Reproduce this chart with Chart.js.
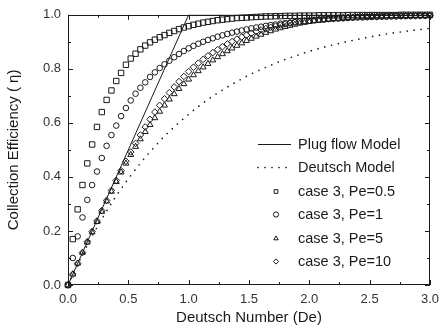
<!DOCTYPE html>
<html><head><meta charset="utf-8">
<script src="https://cdn.jsdelivr.net/npm/chart.js@4/dist/chart.umd.min.js"></script>
<style>html,body{margin:0;padding:0;background:#fff}</style>
</head><body>
<canvas id="c" width="446" height="330"></canvas>
<script>
// ---- data ----
const DE = [0,0.04,0.08,0.12,0.16,0.2,0.24,0.28,0.32,0.36,0.4,0.44,0.48,0.52,0.56,0.6,0.64,0.68,0.72,0.76,0.8,0.84,0.88,0.92,0.96,1,1.04,1.08,1.12,1.16,1.2,1.24,1.28,1.32,1.36,1.4,1.44,1.48,1.52,1.56,1.6,1.64,1.68,1.72,1.76,1.8,1.84,1.88,1.92,1.96,2,2.04,2.08,2.12,2.16,2.2,2.24,2.28,2.32,2.36,2.4,2.44,2.48,2.52,2.56,2.6,2.64,2.68,2.72,2.76,2.8,2.84,2.88,2.92,2.96,3];
const PE05 = [0,0.17,0.28,0.37,0.45,0.52,0.585,0.64,0.685,0.72,
  0.755,0.785,0.815,0.838,0.856,0.872,0.886,0.898,0.908,0.917,
  0.925,0.933,0.94,0.947,0.953,0.958,0.963,0.967,0.971,0.974,
  0.977,0.98,0.982,0.984,0.986,0.988,0.989,0.99,0.991,0.992,
  0.993,0.994,0.994,0.995,0.995,0.996,0.996,0.996,0.997,0.997,
  0.997,0.997,0.998,0.998,0.998,0.998,0.998,0.998,0.999,0.999,
  0.999,0.999,0.999,0.999,0.999,0.999,0.999,0.999,0.999,1,
  1,1,1,1,1,1];
const PE1 = [0,0.10,0.18,0.25,0.315,0.37,0.42,0.47,0.515,0.555,
  0.59,0.625,0.655,0.683,0.708,0.73,0.75,0.77,0.787,0.803,
  0.817,0.83,0.843,0.855,0.866,0.876,0.885,0.893,0.9,0.907,
  0.913,0.919,0.924,0.929,0.934,0.938,0.942,0.946,0.95,0.953,
  0.956,0.959,0.962,0.964,0.967,0.969,0.971,0.973,0.975,0.977,
  0.978,0.98,0.981,0.982,0.984,0.985,0.986,0.987,0.988,0.989,
  0.99,0.99,0.991,0.992,0.992,0.993,0.993,0.994,0.994,0.995,
  0.995,0.995,0.996,0.996,0.996,0.997];
const PE5 = [0,0.04,0.08,0.12,0.158,0.196,0.234,0.272,0.31,0.346,
  0.382,0.417,0.45,0.482,0.512,0.54,0.567,0.593,0.618,0.642,
  0.665,0.687,0.707,0.726,0.744,0.761,0.777,0.792,0.806,0.819,
  0.832,0.844,0.855,0.866,0.876,0.886,0.895,0.904,0.912,0.92,
  0.927,0.934,0.94,0.946,0.951,0.956,0.96,0.964,0.968,0.971,
  0.974,0.977,0.979,0.981,0.983,0.985,0.986,0.988,0.989,0.99,
  0.991,0.992,0.993,0.993,0.994,0.994,0.995,0.995,0.996,0.996,
  0.996,0.997,0.997,0.997,0.997,0.998];
const PE10 = [0,0.04,0.08,0.12,0.16,0.198,0.237,0.275,0.313,0.35,
  0.387,0.423,0.458,0.492,0.524,0.555,0.585,0.613,0.64,0.665,
  0.689,0.712,0.733,0.753,0.772,0.79,0.806,0.821,0.835,0.848,
  0.86,0.871,0.882,0.892,0.901,0.91,0.918,0.925,0.932,0.938,
  0.944,0.949,0.954,0.958,0.962,0.966,0.969,0.972,0.975,0.977,
  0.979,0.981,0.983,0.985,0.986,0.987,0.988,0.989,0.99,0.991,
  0.992,0.993,0.993,0.994,0.994,0.995,0.995,0.996,0.996,0.996,
  0.997,0.997,0.997,0.998,0.998,0.998];
const DE_DEUTSCH = [0,0.1,0.2,0.3,0.4,0.5,0.6,0.7,0.8,0.9,1.0,1.1,1.2,1.3,1.4,1.5,1.6,1.7,1.8,1.9,2.0,2.1,2.2,2.3,2.4,2.5,2.6,2.7,2.8,2.9,3.0];
const DEUTSCH = [0,0.095,0.181,0.259,0.33,0.393,0.451,0.503,0.551,0.593,0.632,0.667,0.699,0.727,0.753,0.777,0.798,0.817,0.835,0.85,0.865,0.878,0.889,0.9,0.909,0.918,0.926,0.933,0.939,0.945,0.95];
const PLUG_X = [0,1,3];
const PLUG_Y = [0,1,1];
const X_TICKS = [0,0.5,1.0,1.5,2.0,2.5,3.0];
const Y_TICKS = [0,0.2,0.4,0.6,0.8,1.0];
const LABELS = ['Plug flow Model','Deutsch Model','case 3, Pe=0.5','case 3, Pe=1','case 3, Pe=5','case 3, Pe=10'];

// ---- styling ----
const FONT = "'Liberation Sans', Arial, sans-serif";
const INK = '#1a1a1a';
const pts = (xs, ys) => xs.map((x, i) => ({x: x, y: ys[i]}));
const markerDs = (label, ys, style, r) => ({
  label, data: pts(DE, ys), showLine: false, pointStyle: style,
  pointRadius: r, pointBorderWidth: 1, pointBorderColor: INK,
  pointBackgroundColor: 'rgba(0,0,0,0)', borderColor: INK, clip: false
});

const frameTicks = {
  id: 'frameTicks',
  afterDatasetsDraw(chart) {
    const {ctx, chartArea: a, scales: {x, y}} = chart;
    ctx.save();
    ctx.strokeStyle = INK; ctx.lineWidth = 1;
    ctx.strokeRect(Math.round(a.left) + 0.5, Math.round(a.top) + 0.5,
      Math.round(a.right - a.left) - 1, Math.round(a.bottom - a.top) - 1);
    ctx.beginPath();
    const xs = X_TICKS;
    for (let i = 0; i < xs.length; i++) {
      const px = Math.round(x.getPixelForValue(xs[i])) + 0.5;
      ctx.moveTo(px, a.bottom); ctx.lineTo(px, a.bottom - 5);
      ctx.moveTo(px, a.top); ctx.lineTo(px, a.top + 5);
      if (i < xs.length - 1) {
        const pm = Math.round(x.getPixelForValue((xs[i] + xs[i + 1]) / 2)) + 0.5;
        ctx.moveTo(pm, a.bottom); ctx.lineTo(pm, a.bottom - 3);
        ctx.moveTo(pm, a.top); ctx.lineTo(pm, a.top + 3);
      }
    }
    const ys = Y_TICKS;
    for (let i = 0; i < ys.length; i++) {
      const py = Math.round(y.getPixelForValue(ys[i])) + 0.5;
      ctx.moveTo(a.left, py); ctx.lineTo(a.left + 5, py);
      ctx.moveTo(a.right, py); ctx.lineTo(a.right - 5, py);
      if (i < ys.length - 1) {
        const pm = Math.round(y.getPixelForValue((ys[i] + ys[i + 1]) / 2)) + 0.5;
        ctx.moveTo(a.left, pm); ctx.lineTo(a.left + 3, pm);
        ctx.moveTo(a.right, pm); ctx.lineTo(a.right - 3, pm);
      }
    }
    ctx.stroke();
    ctx.restore();
  }
};

const legendBox = {
  id: 'legendBox',
  afterDraw(chart) {
    const {ctx, chartArea: a} = chart;
    const x0 = a.left + 190, x1 = a.left + 223, mx = a.left + 208, tx = a.left + 230;
    const y0 = a.top + 129, dy = 23.5;
    ctx.save();
    ctx.font = '14.5px ' + FONT;
    ctx.textBaseline = 'middle';
    chart.data.datasets.forEach((ds, i) => {
      const yy = Math.round(y0 + i * dy) + 0.5;
      ctx.strokeStyle = INK;
      if (i === 0) {
        ctx.lineWidth = 1; ctx.setLineDash([]);
        ctx.beginPath(); ctx.moveTo(x0, yy); ctx.lineTo(x1, yy); ctx.stroke();
      } else if (i === 1) {
        ctx.lineWidth = 1.7; ctx.lineCap = 'round'; ctx.setLineDash([0, 7]);
        ctx.beginPath(); ctx.moveTo(x0, yy); ctx.lineTo(x1, yy); ctx.stroke();
        ctx.setLineDash([]); ctx.lineCap = 'butt';
      } else {
        ctx.lineWidth = 1;
        ctx.fillStyle = 'rgba(0,0,0,0)';
        Chart.helpers.drawPoint(ctx, {pointStyle: ds.pointStyle, radius: 2.6, borderWidth: 1}, mx, yy);
      }
      ctx.fillStyle = INK;
      ctx.fillText(LABELS[i], tx, yy);
    });
    ctx.restore();
  }
};

new Chart(document.getElementById('c'), {
  type: 'scatter',
  data: {
    datasets: [
      {label: LABELS[0], data: pts(PLUG_X, PLUG_Y), showLine: true, pointRadius: 0,
       borderColor: INK, borderWidth: 1, tension: 0},
      {label: LABELS[1], data: pts(DE_DEUTSCH, DEUTSCH), showLine: true, pointRadius: 0,
       borderColor: INK, borderWidth: 1.7, borderDash: [0, 7], borderCapStyle: 'round',
       cubicInterpolationMode: 'monotone'},
      markerDs(LABELS[2], PE05, 'rect', 3.8),
      markerDs(LABELS[3], PE1, 'circle', 2.8),
      markerDs(LABELS[4], PE5, 'triangle', 3.4),
      markerDs(LABELS[5], PE10, 'rectRot', 3.3)
    ]
  },
  options: {
    responsive: false, animation: false, devicePixelRatio: 1,
    layout: {padding: {left: 0, right: 10, top: 12, bottom: 0}},
    plugins: {legend: {display: false}, tooltip: {enabled: false}},
    scales: {
      x: {
        type: 'linear', min: 0, max: 3,
        afterBuildTicks: s => { s.ticks = X_TICKS.map(v => ({value: v})); },
        afterFit: s => { s.height = 45; },
        grid: {display: false, drawTicks: false}, border: {display: false},
        ticks: {padding: 7, color: '#333', font: {family: FONT, size: 13},
                callback: v => v.toFixed(1), maxRotation: 0},
        title: {display: true, text: 'Deutsch Number (De)', color: INK,
                font: {family: FONT, size: 15}, padding: {top: 0, bottom: 3}}
      },
      y: {
        type: 'linear', min: 0, max: 1,
        afterBuildTicks: s => { s.ticks = Y_TICKS.map(v => ({value: v})); },
        afterFit: s => { s.width = 68; },
        grid: {display: false, drawTicks: false}, border: {display: false},
        ticks: {padding: 7, color: '#333', font: {family: FONT, size: 13},
                callback: v => v.toFixed(1)},
        title: {display: true, text: 'Collection Efficiency ( η)', color: INK,
                font: {family: FONT, size: 15}, padding: {top: 5, bottom: 0}}
      }
    }
  },
  plugins: [frameTicks, legendBox]
});
</script>
</body></html>
